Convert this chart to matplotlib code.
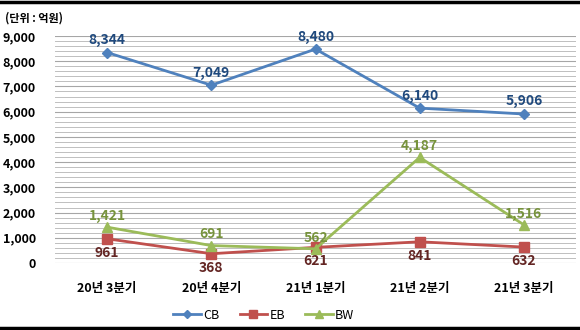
import matplotlib
matplotlib.use('Agg')
import matplotlib.pyplot as plt
import numpy as np
from matplotlib.lines import Line2D
from matplotlib.ticker import MultipleLocator, FuncFormatter

plt.rcParams['font.family'] = ['Noto Sans CJK KR', 'DejaVu Sans']

quarters = ['20년 3분기', '20년 4분기', '21년 1분기', '21년 2분기', '21년 3분기']
cb = [8344, 7049, 8480, 6140, 5906]
eb = [961, 368, 621, 841, 632]
bw = [1421, 691, 562, 4187, 1516]

fig = plt.figure(figsize=(5.8, 3.3), dpi=100)
ax = fig.add_axes([0.095, 0.203, 0.898, 0.688])
x = np.arange(len(quarters))

ax.plot(x, cb, color='#4F81BD', marker='D', markersize=5, linewidth=2, label='CB', zorder=3)
ax.plot(x, eb, color='#C0504D', marker='s', markersize=6.5, linewidth=2, label='EB', zorder=3)
ax.plot(x, bw, color='#9BBB59', marker='^', markersize=6.5, linewidth=2, label='BW', zorder=3)

# data labels
for i in range(len(x)):
    ax.annotate(f'{cb[i]:,}', (x[i], cb[i]), xytext=(0, 4), textcoords='offset points',
                ha='center', va='bottom', fontsize=10, fontweight='bold', color='#1F497D')
    ax.annotate(f'{eb[i]:,}', (x[i], eb[i]), xytext=(0, -5), textcoords='offset points',
                ha='center', va='top', fontsize=10, fontweight='bold', color='#632523')
    ax.annotate(f'{bw[i]:,}', (x[i], bw[i]), xytext=(0, 3), textcoords='offset points',
                ha='center', va='bottom', fontsize=10, fontweight='bold', color='#77933C')

ax.set_xlim(-0.5, len(quarters) - 0.5)
ax.set_ylim(0, 9000)
ax.yaxis.set_major_locator(MultipleLocator(1000))
ax.yaxis.set_minor_locator(MultipleLocator(200))
ax.yaxis.set_major_formatter(FuncFormatter(lambda v, p: f'{int(v):,}'))
ax.grid(axis='y', which='major', color='#A6A6A6', linewidth=0.8)
ax.grid(axis='y', which='minor', color='#BFBFBF', linewidth=0.7)
ax.set_axisbelow(True)
for s in ax.spines.values():
    s.set_visible(False)
ax.tick_params(axis='both', which='both', length=0)
ax.tick_params(axis='y', pad=14)
ax.tick_params(axis='x', pad=14)
ax.set_xticks(x)
ax.set_xticklabels(quarters)
for lab in ax.get_xticklabels() + ax.get_yticklabels():
    lab.set_fontweight('bold')
    lab.set_fontsize(9)

fig.text(0.008, 0.945, '(단위 : 억원)', fontsize=8, fontweight='bold', ha='left', va='center')

fig.legend(loc='center', bbox_to_anchor=(0.455, 0.045), ncol=3, frameon=False,
           fontsize=9, handlelength=2.2, columnspacing=1.6, handletextpad=0.2,
           markerscale=0.85)

fig.add_artist(Line2D([0, 1], [0.994, 0.994], color='black', linewidth=2.5))
fig.add_artist(Line2D([0, 1], [0.006, 0.006], color='black', linewidth=2.5))

fig.savefig('out.png', dpi=100)
